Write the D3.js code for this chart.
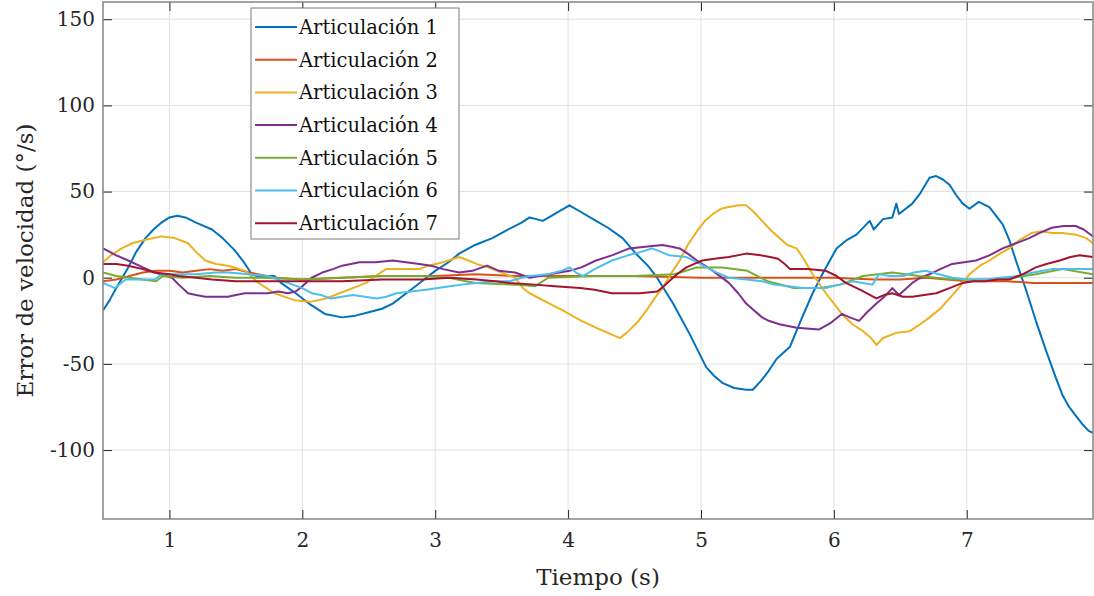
<!DOCTYPE html>
<html>
<head>
<meta charset="utf-8">
<script src="https://cdn.jsdelivr.net/npm/d3@7"></script>
<style>
  body { margin: 0; background: #fff; }
  svg { display: block; font-family: "DejaVu Serif", serif; }
</style>
</head>
<body>
<div id="chart"></div>
<script>
// series as [tiempo (s), error (deg/s)]
const art1 = [[0.5,-19],[0.55,-13],[0.6,-6],[0.69,6],[0.75,15],[0.82,23],[0.88,28],[0.94,32],[1.0,35],[1.06,36],[1.12,35],[1.2,32],[1.32,28],[1.4,23],[1.49,16],[1.56,9],[1.62,2],[1.66,1],[1.72,1],[1.79,1],[1.84,-3],[1.95,-9],[2.05,-15],[2.17,-21],[2.3,-23],[2.4,-22],[2.5,-20],[2.6,-18],[2.68,-15],[2.8,-8],[2.9,-2],[3.0,4],[3.1,9],[3.18,14],[3.3,19],[3.43,23],[3.55,28],[3.65,32],[3.71,35],[3.76,34],[3.81,33],[3.9,37],[4.01,42],[4.1,38],[4.21,33],[4.3,29],[4.41,23],[4.51,14],[4.6,7],[4.67,0],[4.79,-15],[4.91,-32],[5.04,-52],[5.1,-57],[5.16,-61],[5.25,-64],[5.34,-65],[5.39,-65],[5.45,-60],[5.51,-54],[5.57,-47],[5.67,-40],[5.75,-25],[5.84,-9],[5.92,3],[6.02,17],[6.1,22],[6.17,25],[6.27,33],[6.3,28],[6.37,34],[6.44,35],[6.47,43],[6.49,37],[6.59,43],[6.65,49],[6.72,58],[6.77,59],[6.82,57],[6.87,54],[6.92,48],[6.97,43],[7.02,40],[7.09,44],[7.17,41],[7.22,36],[7.27,31],[7.32,22],[7.37,10],[7.45,-8],[7.52,-25],[7.6,-43],[7.67,-58],[7.72,-68],[7.77,-75],[7.82,-80],[7.87,-85],[7.92,-89],[7.95,-90]];
const art2 = [[0.5,-2],[0.6,-1],[0.7,1],[0.8,3],[0.9,4],[1.0,4],[1.1,3],[1.2,4],[1.3,5],[1.4,4],[1.5,5],[1.6,3],[1.8,0],[2.0,-1],[2.3,0],[2.6,1],[3.0,1],[3.3,2],[3.6,1],[4.0,1],[4.5,1],[5.0,0],[5.5,0],[5.8,0],[6.0,0],[6.3,-1],[6.5,-1],[6.7,0],[7.0,-2],[7.3,-2],[7.5,-3],[7.95,-3]];
const art3 = [[0.5,9],[0.56,13],[0.64,17],[0.72,20],[0.82,22],[0.94,24],[1.04,23],[1.14,20],[1.2,15],[1.27,10],[1.35,8],[1.44,7],[1.57,4],[1.67,-3],[1.79,-9],[1.94,-13],[2.06,-14],[2.18,-12],[2.28,-9],[2.38,-6],[2.48,-3],[2.55,1],[2.63,5],[2.75,5],[2.88,5],[2.95,7],[3.06,9],[3.18,12],[3.25,10],[3.31,8],[3.4,6],[3.5,3],[3.6,0],[3.66,-6],[3.71,-9],[3.86,-15],[3.96,-19],[4.1,-25],[4.21,-29],[4.3,-32],[4.39,-35],[4.44,-32],[4.52,-26],[4.59,-19],[4.65,-12],[4.71,-6],[4.78,3],[4.84,10],[4.9,19],[4.97,27],[5.03,33],[5.09,37],[5.15,40],[5.21,41],[5.28,42],[5.34,42],[5.4,38],[5.46,33],[5.52,28],[5.59,23],[5.65,19],[5.72,17],[5.78,10],[5.84,2],[5.94,-9],[6.06,-21],[6.14,-27],[6.22,-31],[6.28,-35],[6.32,-39],[6.37,-35],[6.47,-32],[6.57,-31],[6.65,-27],[6.72,-23],[6.8,-18],[6.87,-12],[6.95,-5],[7.02,2],[7.1,7],[7.17,10],[7.25,14],[7.32,17],[7.4,22],[7.49,26],[7.56,27],[7.64,26],[7.72,26],[7.82,25],[7.9,23],[7.95,20]];
const art4 = [[0.5,17],[0.6,13],[0.69,10],[0.8,6],[0.89,3],[1.02,0],[1.07,-4],[1.14,-9],[1.2,-10],[1.27,-11],[1.35,-11],[1.44,-11],[1.5,-10],[1.57,-9],[1.65,-9],[1.74,-9],[1.82,-8],[1.89,-9],[1.95,-8],[2.0,-5],[2.07,0],[2.15,3],[2.23,5],[2.3,7],[2.43,9],[2.55,9],[2.68,10],[2.78,9],[2.88,8],[2.97,7],[3.06,5],[3.18,3],[3.28,4],[3.39,7],[3.48,4],[3.6,3],[3.71,0],[3.86,2],[4.01,4],[4.1,6],[4.21,10],[4.33,13],[4.46,17],[4.58,18],[4.71,19],[4.78,18],[4.84,17],[4.9,14],[4.97,10],[5.09,4],[5.21,-3],[5.28,-9],[5.34,-15],[5.4,-19],[5.46,-23],[5.51,-25],[5.59,-27],[5.72,-29],[5.89,-30],[5.98,-26],[6.06,-21],[6.12,-23],[6.19,-25],[6.25,-20],[6.32,-15],[6.38,-11],[6.44,-6],[6.49,-10],[6.59,-3],[6.65,0],[6.72,2],[6.8,5],[6.89,8],[6.98,9],[7.07,10],[7.17,13],[7.27,17],[7.37,20],[7.47,23],[7.55,26],[7.64,29],[7.73,30],[7.82,30],[7.88,28],[7.95,24]];
const art5 = [[0.5,3],[0.6,1],[0.7,0],[0.8,-1],[0.9,-2],[0.95,1],[1.1,0],[1.3,1],[1.5,0],[1.7,0],[2.0,-1],[2.3,0],[2.6,1],[2.9,1],[3.1,0],[3.3,-3],[3.6,-4],[3.75,-5],[3.85,0],[4.2,1],[4.5,1],[4.8,2],[4.97,6],[5.16,6],[5.35,4],[5.5,-2],[5.7,-6],[5.9,-6],[6.05,-4],[6.22,1],[6.44,3],[6.64,1],[6.9,-1],[7.15,-1],[7.35,0],[7.52,2],[7.72,5],[7.95,2]];
const art6 = [[0.5,-3],[0.59,-6],[0.67,-1],[0.8,-1],[0.89,-1],[0.94,2],[1.05,2],[1.2,2],[1.35,3],[1.44,3],[1.6,2],[1.74,1],[1.89,-3],[2.0,-6],[2.07,-9],[2.14,-10],[2.21,-12],[2.3,-11],[2.38,-10],[2.47,-11],[2.56,-12],[2.63,-11],[2.71,-9],[2.82,-8],[2.93,-7],[3.02,-6],[3.11,-5],[3.2,-4],[3.31,-3],[3.45,-2],[3.56,-2],[3.65,0],[3.71,1],[3.85,2],[3.95,4],[4.01,6],[4.06,3],[4.11,1],[4.2,5],[4.33,10],[4.45,13],[4.55,15],[4.63,17],[4.7,15],[4.76,13],[4.89,12],[4.97,9],[5.04,6],[5.12,3],[5.21,0],[5.34,-1],[5.46,-2],[5.55,-4],[5.66,-5],[5.76,-6],[5.94,-6],[6.04,-4],[6.14,-2],[6.22,-3],[6.29,-4],[6.34,2],[6.42,1],[6.52,1],[6.6,3],[6.69,4],[6.79,2],[6.89,0],[7.0,-1],[7.14,-1],[7.25,0],[7.39,1],[7.5,3],[7.64,5],[7.8,5],[7.95,5]];
const art7 = [[0.5,8],[0.6,8],[0.69,7],[0.8,5],[0.89,3],[1.0,2],[1.07,1],[1.2,0],[1.32,-1],[1.5,-2],[1.7,-2],[2.0,-2],[2.3,-2],[2.6,-1],[2.9,-1],[3.11,0],[3.31,-1],[3.45,-2],[3.56,-3],[3.75,-4],[3.9,-5],[4.09,-6],[4.2,-7],[4.33,-9],[4.45,-9],[4.54,-9],[4.67,-8],[4.72,-5],[4.76,-2],[4.82,2],[4.89,6],[4.95,8],[5.01,10],[5.1,11],[5.21,12],[5.34,14],[5.45,13],[5.52,12],[5.58,11],[5.63,8],[5.67,5],[5.8,5],[5.94,4],[6.02,1],[6.09,-3],[6.2,-7],[6.32,-12],[6.38,-10],[6.44,-9],[6.52,-11],[6.59,-11],[6.68,-10],[6.77,-9],[6.87,-6],[6.97,-3],[7.05,-2],[7.14,-2],[7.23,-1],[7.32,-1],[7.42,2],[7.52,6],[7.6,8],[7.7,10],[7.78,12],[7.85,13],[7.95,12]];

const names = ["Articulación 1","Articulación 2","Articulación 3","Articulación 4","Articulación 5","Articulación 6","Articulación 7"];
const colors = ["#0072BD","#D95319","#EDB120","#7E2F8E","#77AC30","#4DBEEE","#A2142F"];
const xTicks = [1,2,3,4,5,6,7];
const yTicks = [-100,-50,0,50,100,150];

const series = [art1, art2, art3, art4, art5, art6, art7];

const width = 1094, height = 596;
const margin = {top: 2, right: 1, bottom: 77, left: 103};
const iw = width - margin.left - margin.right, ih = height - margin.top - margin.bottom;

const x = d3.scaleLinear().domain([0.5, 7.95]).range([0, iw]);
const y = d3.scaleLinear().domain([-140, 160]).range([ih, 0]);

const svg = d3.select("#chart").append("svg")
    .attr("width", width).attr("height", height);

const g = svg.append("g").attr("transform", `translate(${margin.left},${margin.top})`);

// grid
g.append("g").selectAll("line").data(xTicks).join("line")
    .attr("x1", d => x(d)).attr("x2", d => x(d)).attr("y1", 0).attr("y2", ih)
    .attr("stroke", "#e1e1e1");
g.append("g").selectAll("line").data(yTicks).join("line")
    .attr("y1", d => y(d)).attr("y2", d => y(d)).attr("x1", 0).attr("x2", iw)
    .attr("stroke", "#e1e1e1");

g.append("clipPath").attr("id", "clip")
  .append("rect").attr("width", iw).attr("height", ih);

const line = d3.line().x(d => x(d[0])).y(d => y(d[1]));

g.append("g").attr("clip-path", "url(#clip)")
  .selectAll("path").data(series).join("path")
    .attr("fill", "none")
    .attr("stroke", (d, i) => colors[i])
    .attr("stroke-width", 2)
    .attr("stroke-linejoin", "round")
    .attr("d", line);

// axes, ticks pointing inward like matlab
const plain = d => String(d);   // hyphen minus like the original
const styleAxis = sel => {
  sel.select(".domain").remove();
  sel.selectAll(".tick line").attr("stroke", "#262626");
  sel.selectAll(".tick text").attr("fill", "#262626")
     .style("font-family", "'DejaVu Serif', serif").style("font-size", "20px");
};
g.append("g").attr("transform", `translate(0,${ih})`)
  .call(d3.axisBottom(x).tickValues(xTicks).tickSize(-9).tickPadding(14).tickFormat(plain))
  .call(styleAxis);
g.append("g")
  .call(d3.axisTop(x).tickValues(xTicks).tickSize(-9).tickFormat(""))
  .call(styleAxis);
g.append("g")
  .call(d3.axisLeft(y).tickValues(yTicks).tickSize(-9).tickPadding(8).tickFormat(plain))
  .call(styleAxis);
g.append("g").attr("transform", `translate(${iw},0)`)
  .call(d3.axisRight(y).tickValues(yTicks).tickSize(-9).tickFormat(""))
  .call(styleAxis);

g.append("rect").attr("width", iw).attr("height", ih)
    .attr("fill", "none").attr("stroke", "#858585").attr("stroke-width", 1.5);

// labels
svg.append("text")
    .attr("x", margin.left + iw / 2).attr("y", 585)
    .attr("text-anchor", "middle").attr("fill", "#262626")
    .style("font-size", "23px")
    .text("Tiempo (s)");
svg.append("text")
    .attr("transform", `translate(33,${margin.top + ih / 2}) rotate(-90)`)
    .attr("text-anchor", "middle").attr("fill", "#262626")
    .style("font-size", "23px")
    .text("Error de velocidad (°/s)");

// legend
const legend = svg.append("g").attr("transform", "translate(251,8)");
legend.append("rect").attr("width", 208).attr("height", 231)
    .attr("fill", "#fff").attr("stroke", "#7a7a7a").attr("stroke-width", 1);
const item = legend.selectAll("g.item").data(names).join("g")
    .attr("class", "item")
    .attr("transform", (d, i) => `translate(0,${19 + i * 32.7})`);
item.append("line").attr("x1", 4).attr("x2", 46)
    .attr("stroke", (d, i) => colors[i]).attr("stroke-width", 2);
item.append("text").attr("x", 48).attr("dy", "0.35em")
    .attr("fill", "#111").style("font-size", "19.5px")
    .text(d => d);
</script>
</body>
</html>
